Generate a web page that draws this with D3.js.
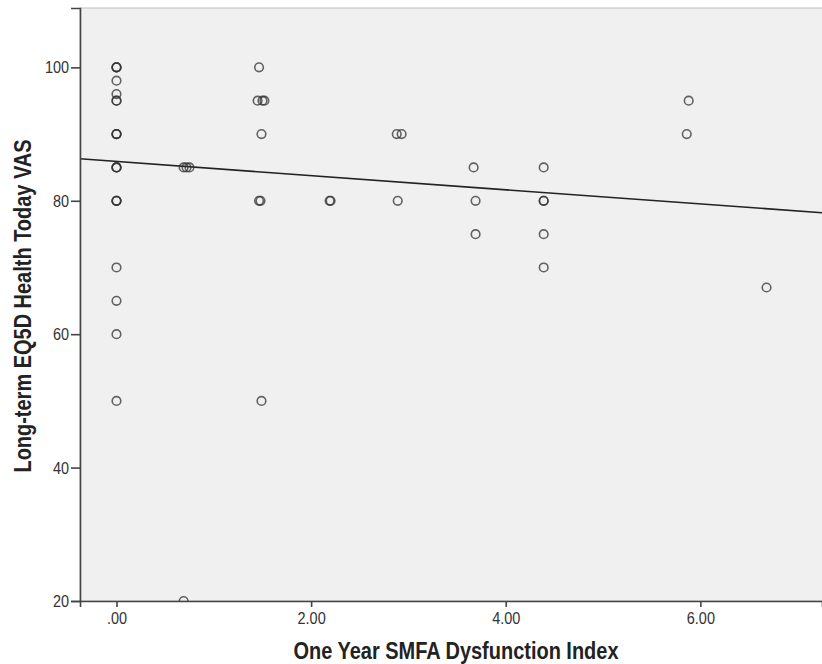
<!DOCTYPE html>
<html>
<head>
<meta charset="utf-8">
<script src="https://cdn.jsdelivr.net/npm/d3@7"></script>
<style>
  html, body { margin: 0; padding: 0; background: #fff; }
  svg { display: block; }
  text { font-family: "Liberation Sans", Arial, sans-serif; }
</style>
</head>
<body>
<svg id="chart" width="822" height="664"></svg>
<script>
// ---- Data ----
const smfaIndex = [
  0, 0, 0, 0, 0, 0, 0, 0, 0, 0, 0, 0, 0, 0, 0, 0, 0, 0, 0, 0,
  0.69, 0.72, 0.75, 0.69,
  1.465, 1.45, 1.5, 1.52, 1.49, 1.465, 1.48, 1.49,
  2.19, 2.2,
  2.88, 2.93, 2.89,
  3.67, 3.69, 3.69,
  4.39, 4.39, 4.39, 4.39, 4.39,
  5.88, 5.86,
  6.68
];
const eq5dVas = [
  100, 100, 100, 98, 96, 95, 95, 90, 90, 90, 85, 85, 85, 80, 80, 80, 70, 65, 60, 50,
  85, 85, 85, 20,
  100, 95, 95, 95, 90, 80, 80, 50,
  80, 80,
  90, 90, 80,
  85, 80, 75,
  85, 80, 80, 75, 70,
  95, 90,
  67
];
// Fit line end values (at the left and right edges of the plot)
const fitX = [-0.375, 7.25];
const fitY = [86.29, 78.2];

const xTicks = [0, 2, 4, 6];
const yTicks = [20, 40, 60, 80, 100];
const xTitle = "One Year SMFA Dysfunction Index";
const yTitle = "Long-term EQ5D Health Today VAS";

// ---- Layout ----
const pL = 80, pR = 822, pT = 8, pB = 601;
const sx = 0.85;   // narrow text look
const svg = d3.select("#chart");

const x = d3.scaleLinear().domain([-0.375, 7.25]).range([pL, pR]);
const y = d3.scaleLinear().domain([20, 108.9]).range([pB, pT]);

// plot background
svg.append("rect")
  .attr("x", pL).attr("y", pT)
  .attr("width", pR - pL + 5).attr("height", pB - pT)
  .attr("fill", "#f0f0f0")
  .attr("stroke", "#bdbdbd").attr("stroke-width", 1);

svg.append("defs").append("clipPath").attr("id", "plotclip")
  .append("rect").attr("x", pL).attr("y", pT)
  .attr("width", pR - pL).attr("height", pB - pT);

// fit line
svg.append("line")
  .attr("clip-path", "url(#plotclip)")
  .attr("x1", x(fitX[0])).attr("y1", y(fitY[0]))
  .attr("x2", x(fitX[1])).attr("y2", y(fitY[1]))
  .attr("stroke", "#222").attr("stroke-width", 1.6);

// points
svg.append("g").attr("clip-path", "url(#plotclip)")
  .selectAll("circle")
  .data(smfaIndex.map((v, i) => [v, eq5dVas[i]]))
  .join("circle")
  .attr("cx", d => x(d[0]))
  .attr("cy", d => y(d[1]))
  .attr("r", 4.3)
  .attr("fill", "none")
  .attr("stroke", "#333")
  .attr("stroke-opacity", 0.75)
  .attr("stroke-width", 1.6);

// axes
const xAxis = d3.axisBottom(x).tickValues(xTicks)
  .tickFormat(d => d === 0 ? ".00" : d3.format(".2f")(d))
  .tickSize(6).tickPadding(5);
const gx = svg.append("g").attr("transform", `translate(0,${pB})`).call(xAxis);
gx.select(".domain").attr("stroke", "#444").attr("stroke-width", 1.6);
gx.selectAll(".tick line").attr("stroke", "#444").attr("stroke-width", 1.6);
gx.selectAll(".tick text").attr("font-size", 17).attr("fill", "#333")
  .attr("font-family", "Liberation Sans, Arial, sans-serif")
  .attr("transform", `scale(${sx},1)`);

const yAxis = d3.axisLeft(y).tickValues(yTicks).tickSize(9).tickPadding(2);
const gy = svg.append("g").attr("transform", `translate(${pL},0)`).call(yAxis);
gy.select(".domain").attr("stroke", "#444").attr("stroke-width", 1.6);
gy.selectAll(".tick line").attr("stroke", "#444").attr("stroke-width", 1.6);
gy.selectAll(".tick text").attr("font-size", 17).attr("fill", "#333")
  .attr("font-family", "Liberation Sans, Arial, sans-serif")
  .attr("x", -11 / sx)
  .attr("transform", `scale(${sx},1)`);

// titles
svg.append("text")
  .attr("transform", `translate(${(pL + pR) / 2 + 5},659) scale(${sx},1)`)
  .attr("text-anchor", "middle")
  .attr("font-size", 23.5).attr("font-weight", "bold").attr("fill", "#222")
  .text(xTitle);

svg.append("text")
  .attr("transform", `translate(31,306) rotate(-90) scale(${sx},1)`)
  .attr("text-anchor", "middle")
  .attr("font-size", 23.5).attr("font-weight", "bold").attr("fill", "#222")
  .text(yTitle);
</script>
</body>
</html>
